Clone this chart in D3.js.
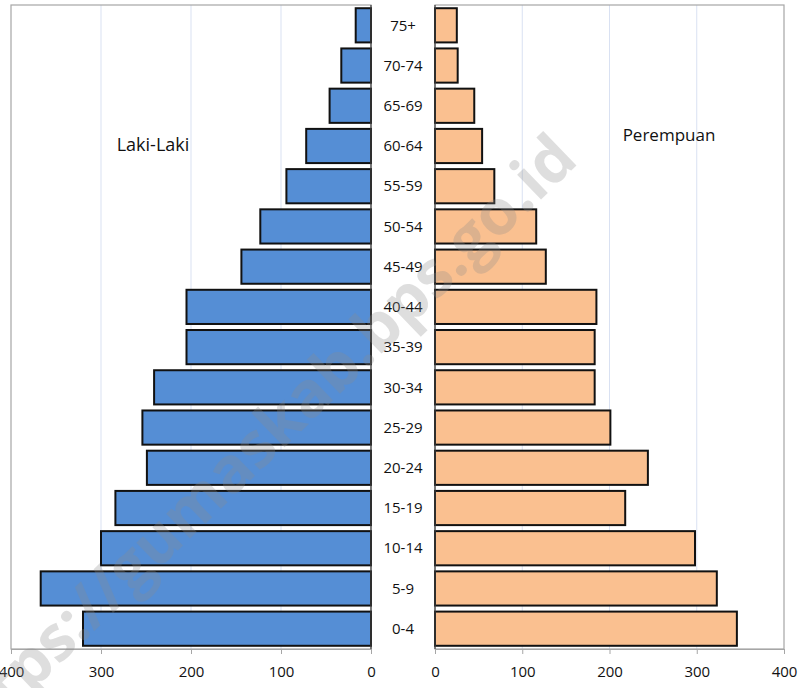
<!DOCTYPE html>
<html>
<head>
<meta charset="utf-8">
<script src="https://cdn.jsdelivr.net/npm/d3@7"></script>
<style>
  body { margin: 0; background: #fff; }
  text { font-family: "Open Sans", "Noto Sans", sans-serif; }
</style>
</head>
<body>
<div id="chart"></div>
<script>
// age groups, top to bottom
let ageGroups = ['75+', '70-74', '65-69', '60-64', '55-59', '50-54', '45-49', '40-44',
    '35-39', '30-34', '25-29', '20-24', '15-19', '10-14', '5-9', '0-4'];
let lakiLaki = [17, 33, 46, 72, 94, 123, 144, 205, 205, 241, 254, 249, 284, 300, 367, 320];
let perempuan = [25, 26, 45, 54, 68, 116, 127, 185, 183, 183, 201, 244, 218, 298, 323, 346];
let tickValues = [0, 100, 200, 300, 400];

let svgWidth = 800;
let svgHeight = 688;

let svg = d3.select('#chart')
    .append('svg')
    .attr('width', svgWidth)
    .attr('height', svgHeight);

let plotTop = 5, plotBottom = 649;

// scales
let yScale = d3.scaleBand()
    .domain(ageGroups)
    .range([plotTop, plotBottom])
    .paddingInner(0.15)
    .paddingOuter(0.08);

let xLeft = d3.scaleLinear().domain([0, 400]).range([371, 11]);
let xRight = d3.scaleLinear().domain([0, 400]).range([435, 784]);

// draw one side of the pyramid
function drawSide(xScale, values, fill) {
    let g = svg.append('g');
    let x0 = xScale(0), x1 = xScale(400);
    let left = Math.min(x0, x1), right = Math.max(x0, x1);

    // gridlines
    g.selectAll('.grid')
        .data(tickValues.slice(1, 4))
        .enter()
        .append('line')
        .attr('x1', d => xScale(d))
        .attr('x2', d => xScale(d))
        .attr('y1', plotTop)
        .attr('y2', plotBottom)
        .attr('stroke', '#d9e1f2')
        .attr('stroke-width', 1);

    // frame
    g.append('rect')
        .attr('x', left)
        .attr('y', plotTop)
        .attr('width', right - left)
        .attr('height', plotBottom - plotTop)
        .attr('fill', 'none')
        .attr('stroke', '#a6a6a6')
        .attr('stroke-width', 1.2);

    // bars
    g.selectAll('.bar')
        .data(values)
        .enter()
        .append('rect')
        .attr('x', d => Math.min(xScale(0), xScale(d)))
        .attr('y', (d, i) => yScale(ageGroups[i]))
        .attr('width', d => Math.abs(xScale(d) - xScale(0)))
        .attr('height', yScale.bandwidth())
        .attr('fill', fill)
        .attr('stroke', '#111')
        .attr('stroke-width', 2);

    // zero axis
    g.append('line')
        .attr('x1', x0).attr('x2', x0)
        .attr('y1', plotTop).attr('y2', plotBottom)
        .attr('stroke', '#444')
        .attr('stroke-width', 1.2);

    // bottom axis
    let axis = g.append('g')
        .attr('transform', `translate(0,${plotBottom})`)
        .call(d3.axisBottom(xScale).tickValues(tickValues).tickSize(5).tickPadding(12).tickSizeOuter(0));
    axis.select('.domain').attr('stroke', '#a6a6a6');
    axis.selectAll('.tick line').attr('stroke', '#a6a6a6');
    axis.selectAll('.tick text')
        .attr('fill', '#111')
        .style('font-size', '15px')
        .style('font-family', '"Open Sans", sans-serif');
}

drawSide(xLeft, lakiLaki, '#558ed5');
drawSide(xRight, perempuan, '#fac090');

// age labels in the middle
svg.selectAll('.age')
    .data(ageGroups)
    .enter()
    .append('text')
    .attr('x', 403)
    .attr('y', d => yScale(d) + yScale.bandwidth() / 2)
    .attr('dy', '0.35em')
    .attr('text-anchor', 'middle')
    .attr('fill', '#111')
    .style('font-size', '15px')
    .text(d => d);

// side titles
svg.append('text')
    .attr('x', 153)
    .attr('y', 145)
    .attr('dy', '0.35em')
    .attr('text-anchor', 'middle')
    .attr('fill', '#111')
    .style('font-size', '18px')
    .text('Laki-Laki');

svg.append('text')
    .attr('x', 669)
    .attr('y', 135)
    .attr('dy', '0.35em')
    .attr('text-anchor', 'middle')
    .attr('fill', '#111')
    .style('font-size', '17px')
    .text('Perempuan');

// watermark
svg.append('text')
    .attr('transform', 'translate(580,162) rotate(-44)')
    .attr('text-anchor', 'end')
    .attr('fill', '#8c8c8c')
    .attr('opacity', 0.28)
    .style('font-size', '63px')
    .style('font-weight', 'bold')
    .text('https://gumaskab.bps.go.id');
</script>
</body>
</html>
